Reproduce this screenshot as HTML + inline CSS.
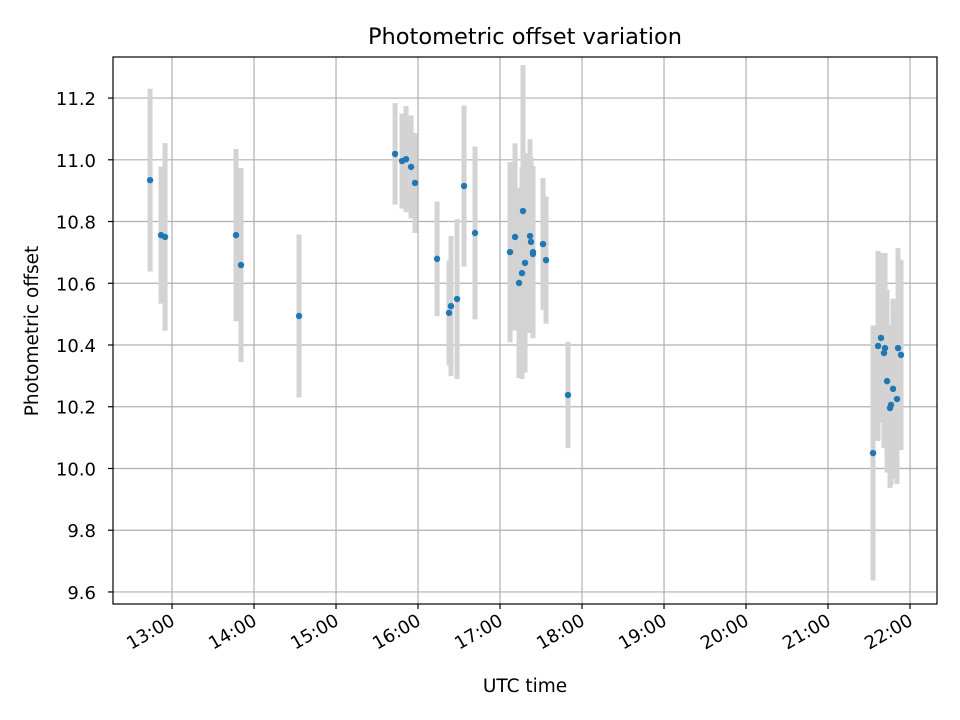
<!DOCTYPE html>
<html><head><meta charset="utf-8">
<style>
html,body{margin:0;padding:0;background:#fff;}
svg{display:block;font-family:"DejaVu Sans","Liberation Sans",sans-serif;}
</style></head>
<body>
<svg id="chart" width="960" height="720" viewBox="0 0 960 720" xmlns="http://www.w3.org/2000/svg">
<rect width="960" height="720" fill="#fff"/>
<g id="grid"></g>
<g id="errs"></g>
<g id="pts"></g>
<rect x="113" y="57" width="824" height="547" fill="none" stroke="#000" stroke-width="1.2"/>
<g id="axes"></g>
<text x="525" y="44" text-anchor="middle" font-size="22.5">Photometric offset variation</text>
<text x="525" y="692" text-anchor="middle" font-size="18.5">UTC time</text>
<text x="38" y="331" text-anchor="middle" font-size="18.5" transform="rotate(-90 38 331)">Photometric offset</text>
</svg>
<script>
const times = [12.732,12.866,12.915,13.780,13.841,14.549,15.720,15.805,15.854,15.915,15.963,16.232,16.378,16.402,16.476,16.561,16.695,17.122,17.183,17.232,17.268,17.280,17.305,17.366,17.378,17.402,17.402,17.524,17.561,17.829,21.549,21.610,21.646,21.683,21.695,21.720,21.756,21.768,21.793,21.841,21.854,21.890];
const offsets = [10.934,10.756,10.750,10.756,10.659,10.494,11.019,10.996,11.002,10.977,10.925,10.679,10.504,10.526,10.549,10.915,10.763,10.701,10.750,10.601,10.633,10.834,10.666,10.753,10.734,10.701,10.695,10.727,10.675,10.238,10.050,10.397,10.423,10.374,10.390,10.283,10.196,10.206,10.258,10.225,10.390,10.368];
const errors = [0.296,0.222,0.304,0.279,0.314,0.264,0.164,0.154,0.172,0.167,0.162,0.186,0.170,0.227,0.259,0.261,0.280,0.292,0.303,0.308,0.343,0.473,0.355,0.314,0.275,0.279,0.259,0.214,0.206,0.172,0.413,0.308,0.275,0.308,0.308,0.296,0.259,0.259,0.292,0.275,0.324,0.308];
const xTickHours = [13,14,15,16,17,18,19,20,21,22];
const xTickLabels = ["13:00","14:00","15:00","16:00","17:00","18:00","19:00","20:00","21:00","22:00"];
const yTicks = [9.6,9.8,10.0,10.2,10.4,10.6,10.8,11.0,11.2];
const yTickLabels = ["9.6","9.8","10.0","10.2","10.4","10.6","10.8","11.0","11.2"];

const L=113,R=937,T=57,B=604;
const xMin=12.280,xMax=22.329,yMin=9.561,yMax=11.333;
function xs(h){return L+(h-xMin)/(xMax-xMin)*(R-L);}
function ys(v){return B-(v-yMin)/(yMax-yMin)*(B-T);}
const NS="http://www.w3.org/2000/svg";
function mk(tag,attrs,parent){const e=document.createElementNS(NS,tag);for(const k in attrs)e.setAttribute(k,attrs[k]);parent.appendChild(e);return e;}
const grid=document.getElementById('grid'),axes=document.getElementById('axes');
const errs=document.getElementById('errs'),pts=document.getElementById('pts');
xTickHours.forEach((h,i)=>{
  const x=xs(h);
  const g=mk('line',{x1:x,x2:x,y1:T,y2:B,stroke:'#b0b0b0','stroke-width':1.2},grid);
  
  
  const t=mk('line',{x1:x,x2:x,y1:B,y2:B+5,stroke:'#000','stroke-width':1.2},axes);
  
  
  const ax=x+4, ay=B+20;
  const lb=mk('text',{x:ax,y:ay,'text-anchor':'end','font-size':'18',transform:`rotate(-30 ${ax} ${ay})`},axes);
  lb.textContent=xTickLabels[i];
  
  
});
yTicks.forEach((v,i)=>{
  const y=ys(v);
  const g=mk('line',{x1:L,x2:R,y1:y,y2:y,stroke:'#b0b0b0','stroke-width':1.2},grid);
  
  
  const t=mk('line',{x1:L-5,x2:L,y1:y,y2:y,stroke:'#000','stroke-width':1.2},axes);
  
  
  const lb=mk('text',{x:L-17,y:y+7,'text-anchor':'end','font-size':'18'},axes);
  lb.textContent=yTickLabels[i];
  
  
});
times.forEach((h,i)=>{
  const x=xs(h);
  const e=mk('line',{x1:x,x2:x,y1:ys(offsets[i]+errors[i]),y2:ys(offsets[i]-errors[i]),stroke:'#d3d3d3','stroke-width':5},errs);
  
  
  const c=mk('circle',{cx:x,cy:ys(offsets[i]),r:3.2,fill:'#1f77b4'},pts);
  
  
});
</script>
</body></html>
